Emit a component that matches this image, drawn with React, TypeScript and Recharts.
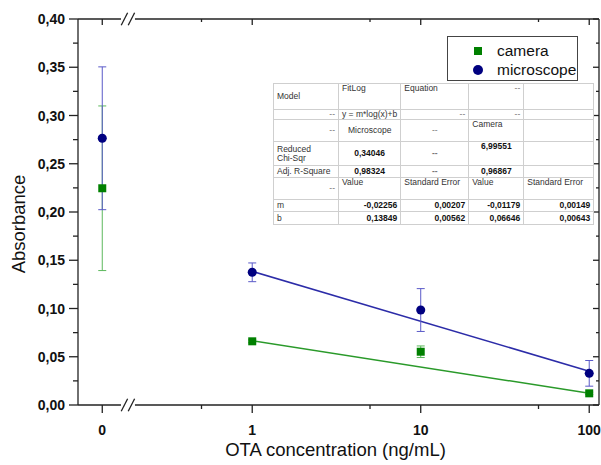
import React from "react";
import {
  ComposedChart,
  Line,
  Scatter,
  ErrorBar,
  XAxis,
  YAxis,
  ReferenceLine,
  Legend,
} from "recharts";

const FONT = "'Liberation Sans', Arial, Helvetica, sans-serif";
const AXIS = "#222222";

// OTA concentration (ng/mL); 0 sits left of the axis break
const concentrations = [0, 1, 10, 100];
const cameraAbs = [0.2246, 0.066, 0.0552, 0.0121];
const cameraErr = [0.0853, 0.0015, 0.006, 0.0012];
const microscopeAbs = [0.2764, 0.1375, 0.0984, 0.0328];
const microscopeErr = [0.074, 0.0097, 0.0222, 0.0133];

// FitLog lines, read at both ends
const fitConc = [1, 100];
const cameraFit = [0.0665, 0.0122];
const microscopeFit = [0.1385, 0.035];

const seriesNames = ["camera", "microscope"];

const xTickConc = [0, 1, 10, 100];
const xMinorConc = [0.5, 5, 50];
const yMajorTicks = [0, 0.05, 0.1, 0.15, 0.2, 0.25, 0.3, 0.35, 0.4];
const yMinorTicks = [0.025, 0.075, 0.125, 0.175, 0.225, 0.275, 0.325, 0.375];

// fit results table
const tableRows = [
  ["Model", "FitLog", "Equation", "--", ""],
  ["--", "y = m*log(x)+b", "--", "--", ""],
  ["--", "Microscope", "--", "Camera", ""],
  ["Reduced\nChi-Sqr", "0,34046", "--", "6,99551", ""],
  ["Adj. R-Square", "0,98324", "--", "0,96867", ""],
  ["--", "Value", "Standard Error", "Value", "Standard Error"],
  ["m", "-0,02256", "0,00207", "-0,01179", "0,00149"],
  ["b", "0,13849", "0,00562", "0,06646", "0,00643"],
];
const tableAlign = [
  ["left middle", "left top", "left top", "right top", "left top"],
  ["right top", "left top", "right top", "right top", "left top"],
  ["right middle", "center middle", "center middle", "left top", "left top"],
  ["left middle", "center middle", "center middle", "center top", "left top"],
  ["left middle", "center middle", "center middle", "center middle", "left top"],
  ["right middle", "left top", "left top", "left top", "left top"],
  ["left middle", "right middle", "right middle", "right middle", "right middle"],
  ["left middle", "right middle", "right middle", "right middle", "right middle"],
];
const tableBoldRows = [3, 4, 6, 7];
const colWidths = [65, 57, 68, 55, 70];
const rowHeights = [26, 9, 22, 24, 12, 22, 12, 13];

// log axis with a break; 0 is placed left of it
const ZERO_POS = -0.89;
const X_MIN = -1.034;
const X_MAX = 2.058;
const BREAK_L = -0.779;
const BREAK_R = -0.696;
const SLASHES = [-0.7585, -0.717];

const toPos = (c: number) => (c === 0 ? ZERO_POS : Math.log10(c));

const cameraData = concentrations.map((c, i) => ({
  pos: toPos(c),
  abs: cameraAbs[i],
  err: cameraErr[i],
}));
const microscopeData = concentrations.map((c, i) => ({
  pos: toPos(c),
  abs: microscopeAbs[i],
  err: microscopeErr[i],
}));
const cameraFitData = fitConc.map((c, i) => ({ pos: toPos(c), abs: cameraFit[i] }));
const microscopeFitData = fitConc.map((c, i) => ({ pos: toPos(c), abs: microscopeFit[i] }));

const xMajor = xTickConc.map(toPos);
const xTicks = [...xMajor, ...xMinorConc.map(toPos)];
const yTicks = [...yMajorTicks, ...yMinorTicks];

const near = (a: number, b: number) => Math.abs(a - b) < 1e-6;
const isXMajor = (v: number) => xMajor.some((m) => near(m, v));
const xLabel = (v: number) => String(xTickConc[xMajor.findIndex((m) => near(m, v))]);
const isYMajor = (v: number) => yMajorTicks.some((m) => near(m, v));
const fmtY = (v: number) => v.toFixed(2).replace(".", ",");

function BottomTick({ x, y, payload }: any) {
  const major = isXMajor(payload.value);
  return (
    <g>
      <line x1={x} x2={x} y1={y} y2={y + (major ? 8 : 4)} stroke={AXIS} strokeWidth={1.3} />
      {major && (
        <text x={x} y={y + 30} textAnchor="middle" fontSize={14} fontWeight="bold" fill="#111" fontFamily={FONT}>
          {xLabel(payload.value)}
        </text>
      )}
    </g>
  );
}

function TopTick({ x, y, payload }: any) {
  const major = isXMajor(payload.value);
  return <line x1={x} x2={x} y1={y} y2={y + (major ? 6 : 3)} stroke={AXIS} strokeWidth={1.3} />;
}

function LeftTick({ x, y, payload }: any) {
  const major = isYMajor(payload.value);
  return (
    <g>
      <line x1={x - (major ? 9 : 5)} x2={x} y1={y} y2={y} stroke={AXIS} strokeWidth={1.3} />
      {major && (
        <text x={x - 13} y={y + 5} textAnchor="end" fontSize={14} fontWeight="bold" fill="#111" fontFamily={FONT}>
          {fmtY(payload.value)}
        </text>
      )}
    </g>
  );
}

function RightTick({ x, y, payload }: any) {
  const major = isYMajor(payload.value);
  return <line x1={x - (major ? 6 : 3)} x2={x} y1={y} y2={y} stroke={AXIS} strokeWidth={1.3} />;
}

function LegendBox() {
  return (
    <div
      style={{
        width: 129,
        height: 43,
        border: "1px solid #444",
        background: "#fff",
        fontFamily: FONT,
        fontSize: 15.5,
        color: "#111",
        boxSizing: "content-box",
      }}
    >
      {seriesNames.map((name, i) => (
        <div key={name} style={{ position: "relative", height: 19, marginTop: i === 0 ? 4 : 0 }}>
          <svg width={12} height={12} style={{ position: "absolute", left: 24, top: 4 }}>
            {i === 0 ? (
              <rect x={2} y={2} width={8} height={8} fill="#008000" />
            ) : (
              <circle cx={6} cy={6} r={5} fill="#000080" />
            )}
          </svg>
          <span style={{ position: "absolute", left: 49, top: 0, lineHeight: "19px" }}>{name}</span>
        </div>
      ))}
    </div>
  );
}

function FitTable() {
  return (
    <table
      style={{
        position: "absolute",
        left: 273,
        top: 83,
        borderCollapse: "collapse",
        tableLayout: "fixed",
        background: "#fff",
        border: "1px solid #8a8a8a",
        fontFamily: FONT,
        fontSize: 8.5,
        color: "#333",
      }}
    >
      <colgroup>
        {colWidths.map((w, i) => (
          <col key={i} style={{ width: w }} />
        ))}
      </colgroup>
      <tbody>
        {tableRows.map((row, r) => (
          <tr key={r} style={{ height: rowHeights[r] }}>
            {row.map((cell, c) => {
              const [h, v] = tableAlign[r][c].split(" ");
              const bold = c > 0 && tableBoldRows.includes(r);
              return (
                <td
                  key={c}
                  style={{
                    border: "1px solid #cfcfcf",
                    padding: "0 3px",
                    lineHeight: "9px",
                    textAlign: h as any,
                    verticalAlign: v as any,
                    fontWeight: bold ? "bold" : "normal",
                    color: cell === "--" ? "#777" : bold ? "#111" : "#333",
                    whiteSpace: "pre",
                    overflow: "hidden",
                  }}
                >
                  {cell}
                </td>
              );
            })}
          </tr>
        ))}
      </tbody>
    </table>
  );
}

export default function App() {
  const frame = { stroke: AXIS, strokeWidth: 1.3, ifOverflow: "visible" as const };
  return (
    <div style={{ position: "absolute", left: 0, top: 0, width: 601, height: 465, fontFamily: FONT, background: "#fff" }}>
      <ComposedChart width={601} height={465} margin={{ top: 18, right: 1, bottom: 0, left: 0 }}>
        <XAxis
          dataKey="pos"
          type="number"
          domain={[X_MIN, X_MAX]}
          allowDataOverflow
          ticks={xTicks}
          interval={0}
          height={60}
          axisLine={false}
          tickLine={false}
          tickSize={0}
          tickMargin={0}
          tick={<BottomTick />}
          label={{
            value: "OTA concentration (ng/mL)",
            position: "insideBottom",
            offset: 9,
            dx: -3,
            fontSize: 18.5,
            fill: "#111",
            fontFamily: FONT,
          }}
        />
        <XAxis
          xAxisId="top"
          orientation="top"
          dataKey="pos"
          type="number"
          domain={[X_MIN, X_MAX]}
          allowDataOverflow
          ticks={xTicks}
          interval={0}
          height={1}
          axisLine={false}
          tickLine={false}
          tickSize={0}
          tickMargin={0}
          tick={<TopTick />}
        />
        <YAxis
          type="number"
          domain={[0, 0.4]}
          allowDataOverflow
          ticks={yTicks}
          interval={0}
          width={78}
          axisLine={{ stroke: AXIS, strokeWidth: 1.3 }}
          tickLine={false}
          tickSize={0}
          tickMargin={0}
          tick={<LeftTick />}
          label={{
            value: "Absorbance",
            angle: -90,
            position: "center",
            dx: -21,
            dy: 12,
            fontSize: 18.5,
            fill: "#111",
            fontFamily: FONT,
          }}
        />
        <YAxis
          yAxisId="right"
          orientation="right"
          type="number"
          domain={[0, 0.4]}
          allowDataOverflow
          ticks={yTicks}
          interval={0}
          width={1}
          axisLine={{ stroke: AXIS, strokeWidth: 1.3 }}
          tickLine={false}
          tickSize={0}
          tickMargin={0}
          tick={<RightTick />}
        />

        {/* bottom and top frame with the axis break */}
        <ReferenceLine segment={[{ x: X_MIN, y: 0 }, { x: BREAK_L, y: 0 }]} {...frame} />
        <ReferenceLine segment={[{ x: BREAK_R, y: 0 }, { x: X_MAX, y: 0 }]} {...frame} />
        <ReferenceLine segment={[{ x: X_MIN, y: 0.4 }, { x: BREAK_L, y: 0.4 }]} {...frame} />
        <ReferenceLine segment={[{ x: BREAK_R, y: 0.4 }, { x: X_MAX, y: 0.4 }]} {...frame} />
        {SLASHES.map((s) =>
          [0, 0.4].map((yy) => (
            <ReferenceLine
              key={`${s}-${yy}`}
              segment={[
                { x: s - 0.019, y: yy - 0.0065 },
                { x: s + 0.019, y: yy + 0.0065 },
              ]}
              {...frame}
            />
          ))
        )}

        <Line
          data={cameraFitData}
          dataKey="abs"
          stroke="#2a9a2a"
          strokeWidth={1.5}
          dot={false}
          isAnimationActive={false}
          legendType="none"
        />
        <Line
          data={microscopeFitData}
          dataKey="abs"
          stroke="#2c2ca8"
          strokeWidth={1.5}
          dot={false}
          isAnimationActive={false}
          legendType="none"
        />
        <Scatter name="camera" data={cameraData} dataKey="abs" fill="#008000" shape="square" isAnimationActive={false}>
          <ErrorBar dataKey="err" direction="y" width={4} stroke="#5cb85c" strokeWidth={1} />
        </Scatter>
        <Scatter name="microscope" data={microscopeData} dataKey="abs" fill="#000080" shape="circle" isAnimationActive={false}>
          <ErrorBar dataKey="err" direction="y" width={4} stroke="#5a5ac8" strokeWidth={1} />
        </Scatter>

        <Legend
          layout="vertical"
          align="center"
          verticalAlign="middle"
          wrapperStyle={{ position: "absolute", left: 447, top: 36, width: "auto", height: "auto" }}
          content={() => <LegendBox />}
        />
      </ComposedChart>
      <FitTable />
    </div>
  );
}
